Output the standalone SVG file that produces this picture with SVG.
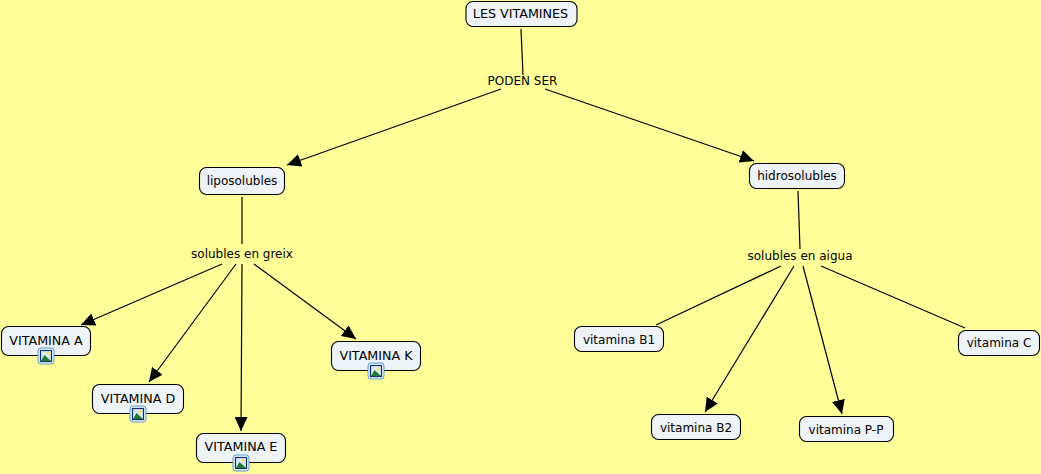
<svg xmlns="http://www.w3.org/2000/svg" width="1041" height="474" viewBox="0 0 1041 474">
<style>
text{font-family:"DejaVu Sans",Verdana,sans-serif;font-size:12px;fill:#000;text-anchor:middle}
text.u{font-size:12.7px}
.n{fill:#eef3f8;stroke:#000;stroke-width:1.1}
.c{stroke:#000;stroke-width:1.2;fill:none}
</style>
<defs>
<marker id="a" viewBox="0 0 14 13" refX="14" refY="6.500" markerWidth="14" markerHeight="13" markerUnits="userSpaceOnUse" orient="auto"><path d="M0 0L14 6.500L0 13Z" fill="#000"/></marker>
<g id="ic"><rect x="-8" y="-8" width="16" height="16" rx="3" fill="#eaf3fb" stroke="#5b9bd5"/><rect x="-5.500" y="-5.500" width="11" height="11" fill="#d8ebf8" stroke="#12306a" stroke-width="1.200"/><circle cx="2" cy="-2.500" r="1.700" fill="#f7e36a"/><path d="M-5 5L-1.500 -1L5 5Z" fill="#1f7a34"/></g>
</defs>
<rect width="1041" height="474" fill="#ffff99"/>
<g id="connectors">
<path class="c" d="M521 29L523 75"/>
<path class="c" marker-end="url(#a)" d="M501 89L287 165"/>
<path class="c" marker-end="url(#a)" d="M545 89L754 161"/>
<path class="c" d="M242 197V244"/>
<path class="c" d="M798 191L800 249"/>
<path class="c" marker-end="url(#a)" d="M222 264L81 325"/>
<path class="c" marker-end="url(#a)" d="M236 264L149 382"/>
<path class="c" marker-end="url(#a)" d="M242 264L241 431"/>
<path class="c" marker-end="url(#a)" d="M254 264L356 339"/>
<path class="c" d="M781 266L656 325"/>
<path class="c" marker-end="url(#a)" d="M794 266L705 412"/>
<path class="c" marker-end="url(#a)" d="M803 266L842 414"/>
<path class="c" d="M821 266L965 328"/>
</g>
<g id="n1"><rect class="n" x="466" y="1.500" width="111" height="25" rx="7"/><text class="u" x="520.500" y="18">LES VITAMINES</text></g>
<g id="n2"><text x="522.500" y="85">PODEN SER</text></g>
<g id="n3"><rect class="n" x="199.500" y="167.500" width="85" height="27" rx="7"/><text x="242" y="185">liposolubles</text></g>
<g id="n4"><rect class="n" x="749.500" y="163.500" width="95" height="25" rx="7"/><text x="797" y="180">hidrosolubles</text></g>
<g id="n5"><text x="242" y="258">solubles en greix</text></g>
<g id="n6"><text x="800" y="260">solubles en aigua</text></g>
<g id="n7"><rect class="n" x="1.500" y="326.500" width="89" height="29" rx="7"/><text class="u" x="46" y="344.500">VITAMINA A</text><use href="#ic" x="46" y="356"/></g>
<g id="n8"><rect class="n" x="92.500" y="384.500" width="91" height="29" rx="7"/><text class="u" x="138" y="402.500">VITAMINA D</text><use href="#ic" x="138" y="414"/></g>
<g id="n9"><rect class="n" x="196.500" y="433.500" width="89" height="29" rx="7"/><text class="u" x="241" y="451">VITAMINA E</text><use href="#ic" x="241" y="463"/></g>
<g id="n10"><rect class="n" x="331.500" y="341.500" width="89" height="29" rx="7"/><text class="u" x="376" y="359.500">VITAMINA K</text><use href="#ic" x="376" y="371"/></g>
<g id="n11"><rect class="n" x="574.500" y="326.500" width="89" height="25" rx="7"/><text x="619" y="344">vitamina B1</text></g>
<g id="n12"><rect class="n" x="651.500" y="414.500" width="89" height="25" rx="7"/><text x="696" y="432">vitamina B2</text></g>
<g id="n13"><rect class="n" x="799.500" y="416.500" width="94" height="25" rx="7"/><text x="846" y="434">vitamina P-P</text></g>
<g id="n14"><rect class="n" x="958.500" y="330.500" width="81" height="25" rx="7"/><text x="999" y="347">vitamina C</text></g>
</svg>
